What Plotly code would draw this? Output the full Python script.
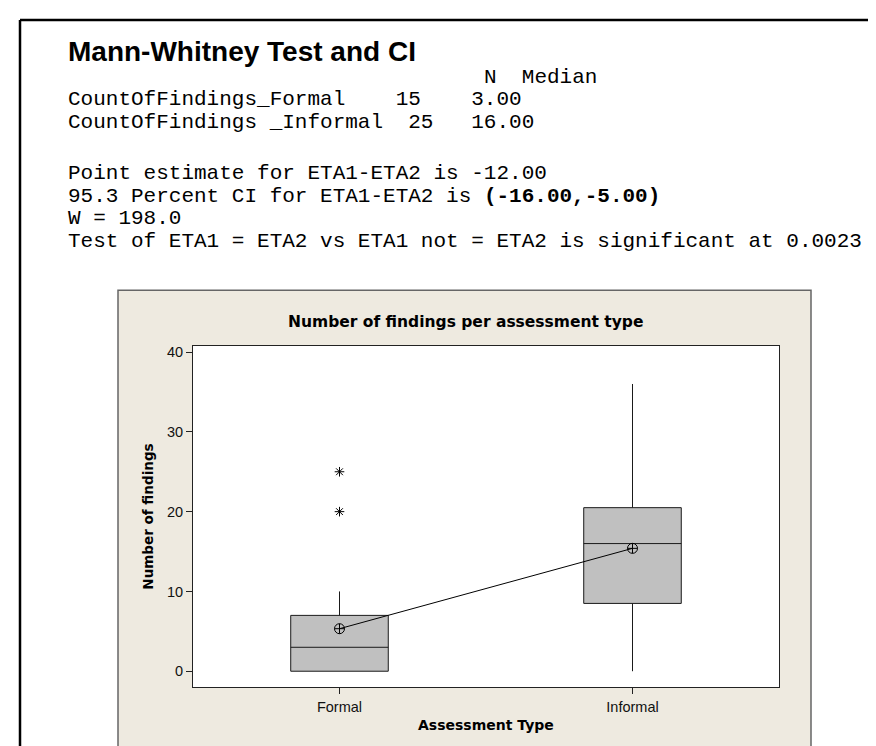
import plotly.graph_objects as go

# Minitab-style Mann-Whitney output with a boxplot of findings

W, H = 876, 746

categories = ["Formal", "Informal"]
q1 = [0, 8.5]
medians = [3, 16]
q3 = [7, 20.5]
lower_whisker = [0, 0]
upper_whisker = [10, 36]
means = [5.33, 15.4]
outlier_x = ["Formal", "Formal"]
outlier_y = [20, 25]

header_text = "N  Median"
header_col = 33
output_lines = [
    "CountOfFindings_Formal    15    3.00",
    "CountOfFindings _Informal  25   16.00",
    "Point estimate for ETA1-ETA2 is -12.00",
    "95.3 Percent CI for ETA1-ETA2 is <b>(-16.00,-5.00)</b>",
    "W = 198.0",
    "Test of ETA1 = ETA2 vs ETA1 not = ETA2 is significant at 0.0023",
]
line_y = [90, 113, 164, 187, 209, 232]

MONO = 21          # font size of the session text
CHAR_W = 0.6 * MONO
TEXT_X = 58


def px(x):
    return x / W


def py(y):
    return 1 - y / H


fig = go.Figure()

fig.add_trace(go.Box(
    x=categories, q1=q1, median=medians, q3=q3,
    lowerfence=lower_whisker, upperfence=upper_whisker,
    orientation='v', width=0.333, whiskerwidth=0,
    fillcolor='#C0C0C0', line=dict(color='#1a1a1a', width=1),
    boxpoints=False, showlegend=False, hoverinfo='skip'
))

fig.add_trace(go.Scatter(
    x=categories, y=means, mode='lines+markers',
    line=dict(color='black', width=1),
    marker=dict(symbol='circle-cross-open', size=10, color='black',
                line=dict(color='black', width=1)),
    showlegend=False
))

fig.add_trace(go.Scatter(
    x=outlier_x, y=outlier_y, mode='markers',
    marker=dict(symbol='asterisk-open', size=8, color='black',
                line=dict(color='black', width=1)),
    showlegend=False
))

axis_common = dict(
    showline=True, linecolor='#222', linewidth=1, mirror=True,
    ticks='outside', ticklen=6, tickcolor='#222', tickwidth=1,
    tickfont=dict(family='Liberation Sans, Arial', size=14.5, color='#111'),
    showgrid=False, zeroline=False,
)

fig.update_layout(
    width=W, height=H,
    margin=dict(l=0, r=0, t=0, b=0),
    paper_bgcolor='white', plot_bgcolor='white',
    showlegend=False,
    xaxis=dict(domain=[px(185), px(771)], type='category',
               range=[-0.5, 1.5], **axis_common),
    yaxis=dict(domain=[py(679), py(337)], range=[-2, 40.75],
               tick0=0, dtick=10, **axis_common),
)

# beige graph panel, white data region on top of it
fig.add_shape(type='rect', xref='paper', yref='paper', layer='below',
              x0=px(110), x1=px(803), y0=py(742), y1=py(281),
              fillcolor='#EEEAE0', line=dict(color='#666', width=1.5))
fig.add_shape(type='rect', xref='paper', yref='paper', layer='below',
              x0=px(185), x1=px(771), y0=py(679), y1=py(337),
              fillcolor='white', line=dict(width=0))

# outer frame (top and left edges)
fig.add_shape(type='line', xref='paper', yref='paper',
              x0=px(12), x1=px(12), y0=py(760), y1=py(10),
              line=dict(color='black', width=2.5))
fig.add_shape(type='line', xref='paper', yref='paper',
              x0=px(12), x1=px(880), y0=py(10), y1=py(10),
              line=dict(color='black', width=2.5))

fig.add_annotation(
    text='<b>Mann-Whitney Test and CI</b>', xref='paper', yref='paper',
    x=px(TEXT_X), y=py(42), xanchor='left', yanchor='middle', showarrow=False,
    font=dict(family='Arial, Liberation Sans', size=28, color='black')
)

mono_font = dict(family='Courier New, Liberation Mono, monospace', size=MONO, color='black')

fig.add_annotation(
    text=header_text.replace(' ', '\u00a0'), xref='paper', yref='paper',
    x=px(TEXT_X + header_col * CHAR_W), y=py(68), xanchor='left', yanchor='middle',
    showarrow=False, font=mono_font
)

for txt, yy in zip(output_lines, line_y):
    fig.add_annotation(
        text=txt.replace(' ', '\u00a0'), xref='paper', yref='paper',
        x=px(TEXT_X), y=py(yy), xanchor='left', yanchor='middle', showarrow=False,
        font=mono_font
    )

fig.add_annotation(
    text='<b>Number of findings per assessment type</b>', xref='paper', yref='paper',
    x=px(457), y=py(313), xanchor='center', yanchor='middle', showarrow=False,
    font=dict(family='DejaVu Sans', size=15.5, color='black')
)
fig.add_annotation(
    text='<b>Number of findings</b>', xref='paper', yref='paper',
    x=px(140), y=py(508), xanchor='center', yanchor='middle', showarrow=False,
    textangle=-90, font=dict(family='DejaVu Sans', size=13.5, color='black')
)
fig.add_annotation(
    text='<b>Assessment Type</b>', xref='paper', yref='paper',
    x=px(478), y=py(717), xanchor='center', yanchor='middle', showarrow=False,
    font=dict(family='DejaVu Sans', size=14, color='black')
)

fig.write_html("out.html")
